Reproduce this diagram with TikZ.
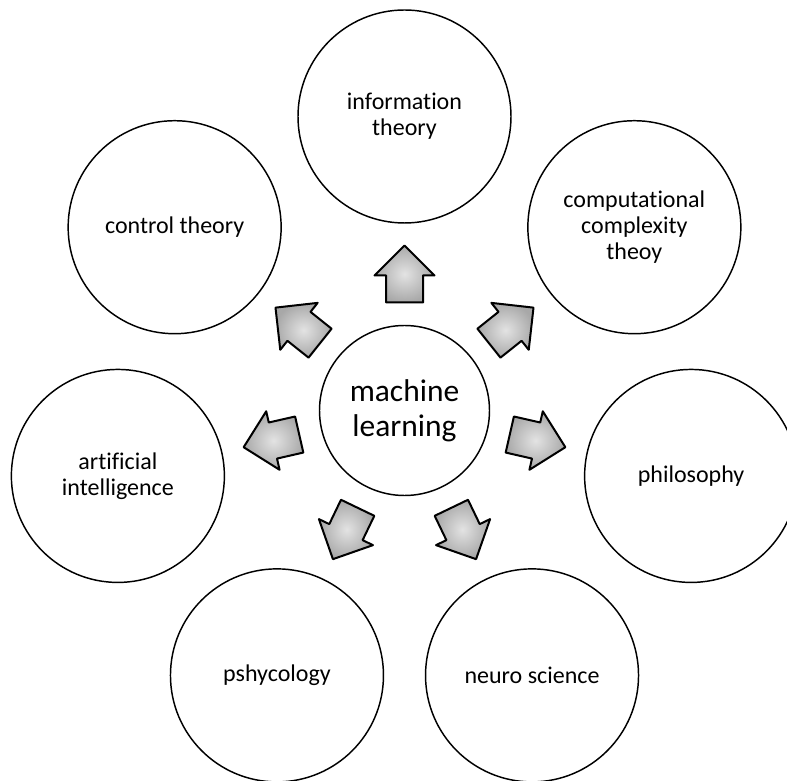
\documentclass[tikz,border=0pt]{standalone}
\usepackage{fontspec}
\setmainfont{Carlito}[Ligatures={NoCommon}]
\usetikzlibrary{calc}
\begin{document}
\begin{tikzpicture}[x=0.75pt,y=0.75pt,
  topic/.style={circle,draw=black,line width=1.1pt,fill=white,minimum size=159.75pt,inner sep=0pt,align=center,font=\fontsize{18}{19.5}\selectfont},
  hub/.style={circle,draw=black,line width=1.1pt,fill=white,minimum size=127.5pt,inner sep=0pt,align=center,font=\fontsize{23.6}{26.5}\selectfont},
  arrowbody/.style={draw=black,line width=1.5pt,line join=round,shading=radial,inner color=gray!22,outer color=gray!68},
  blockarrow/.pic={\path[arrowbody] (0,-18.5) -- (27,-18.5) -- (27,-30) -- (57,0) -- (27,30) -- (27,18.5) -- (0,18.5) -- cycle;}
]
\useasboundingbox (-404.5,-369.5) rectangle (382.5,410.5);
\clip (-404.5,-369.5) rectangle (382.5,410.5);
\node[hub] (ml) at (0,0) {machine\\learning};
\node[topic] (info) at (90:294) {information\\theory};
\node[topic] (ctrl) at (141.43:294) {control theory};
\node[topic] (ai) at (192.86:294) {artificial\\intelligence};
\node[topic] (psy) at (244.29:294) {pshycology};
\node[topic] (neuro) at (295.71:294) {neuro science};
\node[topic] (phil) at (347.14:294) {philosophy};
\node[topic] (comp) at (38.57:294) {computational\\complexity\\theoy};
\foreach \a in {90,141.43,192.86,244.29,295.71,347.14,38.57}{
  \pic[rotate=\a] at ($(ml.center)+(\a:108)$) {blockarrow};
}
\end{tikzpicture}
\end{document}
